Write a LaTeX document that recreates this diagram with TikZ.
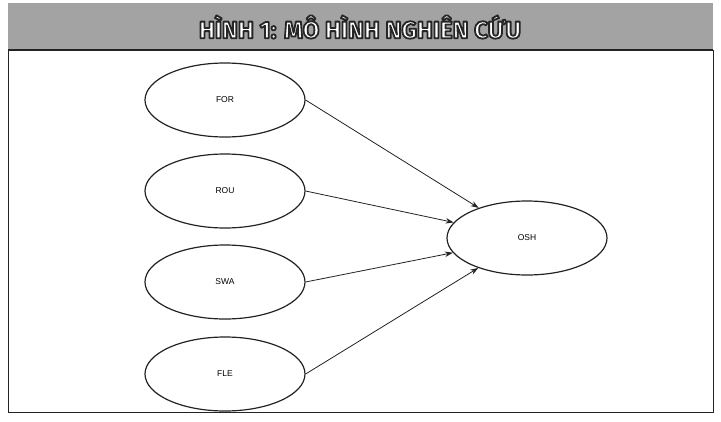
\documentclass[tikz,border=0pt]{standalone}
\usepackage{fontspec}
\setmainfont{Liberation Sans}
\newfontfamily\titlefont{Fira Sans}
\usetikzlibrary{arrows.meta,shapes.geometric}
\definecolor{bandgray}{RGB}{163,163,163}
\definecolor{inkline}{RGB}{35,35,35}
\newcommand{\outlinedtext}[1]{\special{pdf:literal direct q 2 Tr 1.8 w 1 j 0.15 G}#1\special{pdf:literal direct Q}}
\tikzset{
  construct/.style={ellipse,draw=inkline,line width=1.2pt,minimum width=160pt,minimum height=74pt,inner sep=0pt,font=\fontsize{8.5}{10}\selectfont},
  path/.style={draw=inkline,line width=0.8pt,-{Stealth[length=8pt,width=5.5pt]}},
  titletext/.style={text=white,inner sep=0pt,font=\titlefont\bfseries\fontsize{24}{27}\selectfont}
}
\begin{document}
\begin{tikzpicture}[x=1pt,y=-1pt]
\useasboundingbox (0,0) rectangle (721,421);
\fill[white] (0,0) rectangle (721,421);
% frame
\draw[inkline,line width=0.9pt] (8,50) rectangle (713,412);
\fill[bandgray] (8,3) rectangle (713,50);
\draw[inkline,line width=1.2pt] (8,50) -- (713,50);
% title
\node[titletext] (title) at (360,27) {\outlinedtext{HÌNH 1: MÔ HÌNH NGHIÊN CỨU}};
% constructs
\node[construct] (FOR) at (225,100) {FOR};
\node[construct] (ROU) at (225,191) {ROU};
\node[construct] (SWA) at (225,282) {SWA};
\node[construct] (FLE) at (225,374) {FLE};
\node[construct] (OSH) at (527,238) {OSH};
% paths
\draw[path] (FOR.east) -- (OSH);
\draw[path] (ROU.east) -- (OSH);
\draw[path] (SWA.east) -- (OSH);
\draw[path] (FLE.east) -- (OSH);
\end{tikzpicture}
\end{document}
